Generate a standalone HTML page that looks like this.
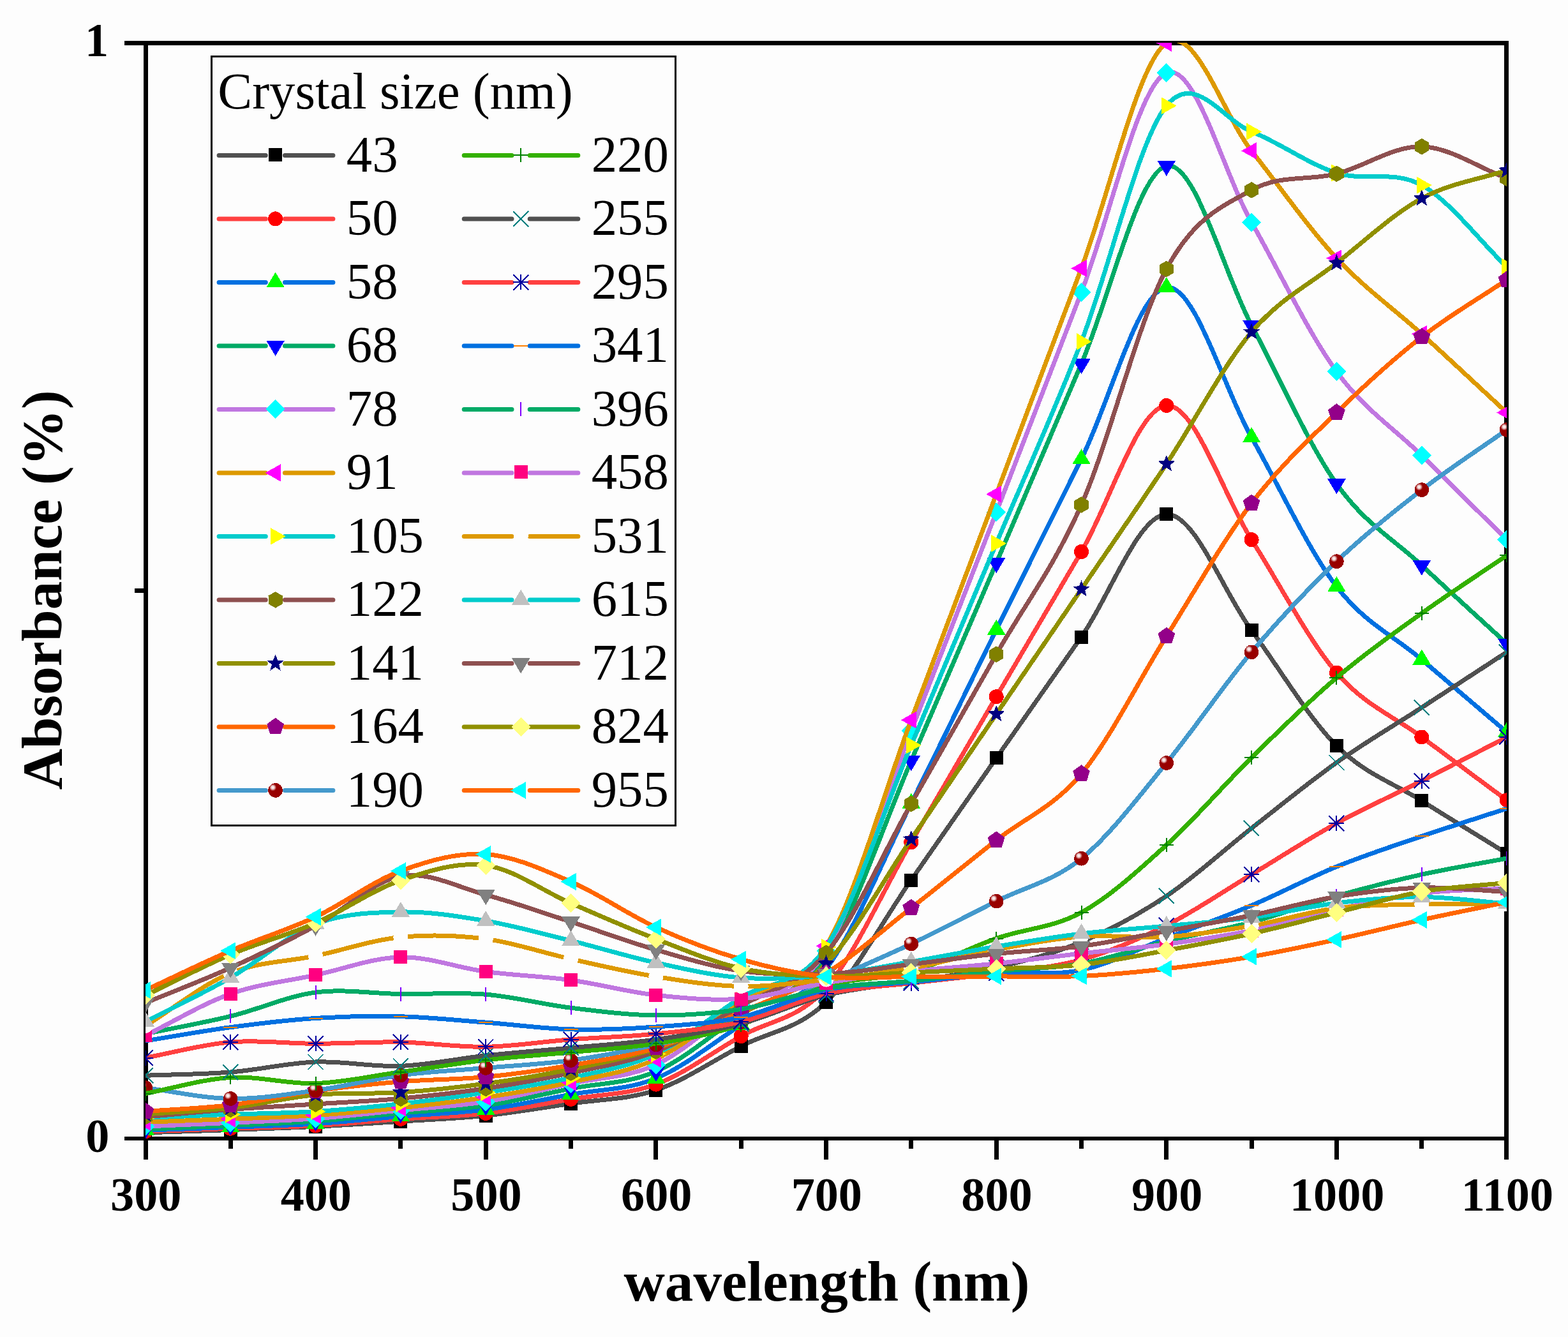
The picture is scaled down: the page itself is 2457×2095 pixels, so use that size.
<!DOCTYPE html>
<html lang="en"><head><meta charset="utf-8"><title>Absorbance vs wavelength</title>
<style>html,body{margin:0;padding:0;background:#fdfdfd}body{width:2457px;height:2095px;overflow:hidden}svg{display:block}text{font-family:"Liberation Serif",serif;fill:#000}.b{font-weight:bold}.tk{font-size:74.2px;font-weight:bold}.ax{font-size:89.1px;font-weight:bold}.lg{font-size:80.8px}.ln{fill:none;stroke-width:7;stroke-linejoin:round}</style></head><body>
<svg width="2457" height="2095" viewBox="0 0 2457 2095">
<defs><clipPath id="cp"><rect x="228" y="67" width="2133" height="1717"/></clipPath><radialGradient id="sph" cx="0.32" cy="0.3" r="0.6"><stop offset="0" stop-color="#fff"/><stop offset="0.18" stop-color="#f0d0d0"/><stop offset="0.42" stop-color="#980000"/><stop offset="1" stop-color="#980000"/></radialGradient></defs>
<rect width="2457" height="2095" fill="#fdfdfd"/>
<g stroke="#000" stroke-width="7" fill="none" shape-rendering="crispEdges">
<path d="M195 67.5H2364"/>
<path stroke-width="6" d="M195 1784H2364"/>
<path d="M228.5 64V1816.5M2360.5 64V1816.5"/>
<path d="M494.5 1784V1816.5M761.5 1784V1816.5M1027.5 1784V1816.5M1294.5 1784V1816.5M1561.5 1784V1816.5M1827.5 1784V1816.5M2094.5 1784V1816.5M361.5 1784V1799.5M627.5 1784V1799.5M894.5 1784V1799.5M1161.5 1784V1799.5M1427.5 1784V1799.5M1694.5 1784V1799.5M1961.5 1784V1799.5M2227.5 1784V1799.5M211 925.8H228.5"/>
</g>
<g clip-path="url(#cp)" shape-rendering="crispEdges">
<path class="ln" stroke="#505050" d="M227.9 1774.8C272.3 1773.4 316.8 1772.1 361.2 1770.5C405.7 1768.9 450.1 1767.5 494.5 1765.3C539 1763.1 583.4 1760.1 627.9 1757.2C672.3 1754.3 716.8 1752.8 761.2 1748.1C805.6 1743.4 850.1 1735.8 894.5 1729.2C939 1722.6 983.4 1723.2 1027.9 1708.2C1072.3 1693.2 1116.7 1662.3 1161.2 1639.3C1205.6 1616.3 1250.1 1613.6 1294.5 1570.2C1338.9 1526.8 1383.4 1442.7 1427.8 1379C1472.3 1315.3 1516.7 1251.3 1561.2 1187.8C1605.6 1124.3 1650 1061.7 1694.5 998C1738.9 934.4 1783.4 807.6 1827.8 805.9C1872.2 804.2 1916.7 927.3 1961.1 987.8C2005.6 1048.2 2050 1124.1 2094.4 1168.6C2138.9 1213.1 2183.3 1226.7 2227.8 1254.8C2272.2 1282.9 2316.7 1309.8 2361.1 1337.3"/>
<rect x="217.4" y="1764.3" width="21" height="21" fill="#000000"/><rect x="350.7" y="1760" width="21" height="21" fill="#000000"/><rect x="484" y="1754.8" width="21" height="21" fill="#000000"/><rect x="617.4" y="1746.7" width="21" height="21" fill="#000000"/><rect x="750.7" y="1737.6" width="21" height="21" fill="#000000"/><rect x="884" y="1718.7" width="21" height="21" fill="#000000"/><rect x="1017.4" y="1697.7" width="21" height="21" fill="#000000"/><rect x="1150.7" y="1628.8" width="21" height="21" fill="#000000"/><rect x="1284" y="1559.7" width="21" height="21" fill="#000000"/><rect x="1417.3" y="1368.5" width="21" height="21" fill="#000000"/><rect x="1550.7" y="1177.3" width="21" height="21" fill="#000000"/><rect x="1684" y="987.5" width="21" height="21" fill="#000000"/><rect x="1817.3" y="795.4" width="21" height="21" fill="#000000"/><rect x="1950.6" y="977.3" width="21" height="21" fill="#000000"/><rect x="2083.9" y="1158.1" width="21" height="21" fill="#000000"/><rect x="2217.3" y="1244.3" width="21" height="21" fill="#000000"/><rect x="2350.6" y="1326.8" width="21" height="21" fill="#000000"/>
<path class="ln" stroke="#FF4040" d="M227.9 1773C272.3 1771.4 316.8 1769.8 361.2 1768.3C405.7 1766.8 450.1 1766.3 494.5 1763.8C539 1761.3 583.4 1756.5 627.9 1753.3C672.3 1750.1 716.8 1749.7 761.2 1744.5C805.6 1739.3 850.1 1730 894.5 1722.4C939 1714.8 983.4 1715.6 1027.9 1699.1C1072.3 1682.6 1116.7 1648.8 1161.2 1623.6C1205.6 1598.4 1250.1 1598.7 1294.5 1548C1338.9 1497.3 1383.4 1395.8 1427.8 1319.7C1472.3 1243.7 1516.7 1167.6 1561.2 1091.7C1605.6 1015.8 1650 940.5 1694.5 864.5C1738.9 788.5 1783.4 638.6 1827.8 635.5C1872.2 632.4 1916.7 775.9 1961.1 845.7C2005.6 915.5 2050 1002.7 2094.4 1054.2C2138.9 1105.8 2183.3 1121.7 2227.8 1155C2272.2 1188.3 2316.7 1220.9 2361.1 1253.9"/>
<circle cx="227.9" cy="1773" r="11.5" fill="#FF0000"/><circle cx="361.2" cy="1768.3" r="11.5" fill="#FF0000"/><circle cx="494.5" cy="1763.8" r="11.5" fill="#FF0000"/><circle cx="627.9" cy="1753.3" r="11.5" fill="#FF0000"/><circle cx="761.2" cy="1744.5" r="11.5" fill="#FF0000"/><circle cx="894.5" cy="1722.4" r="11.5" fill="#FF0000"/><circle cx="1027.9" cy="1699.1" r="11.5" fill="#FF0000"/><circle cx="1161.2" cy="1623.6" r="11.5" fill="#FF0000"/><circle cx="1294.5" cy="1548" r="11.5" fill="#FF0000"/><circle cx="1427.8" cy="1319.7" r="11.5" fill="#FF0000"/><circle cx="1561.2" cy="1091.7" r="11.5" fill="#FF0000"/><circle cx="1694.5" cy="864.5" r="11.5" fill="#FF0000"/><circle cx="1827.8" cy="635.5" r="11.5" fill="#FF0000"/><circle cx="1961.1" cy="845.7" r="11.5" fill="#FF0000"/><circle cx="2094.4" cy="1054.2" r="11.5" fill="#FF0000"/><circle cx="2227.8" cy="1155" r="11.5" fill="#FF0000"/><circle cx="2361.1" cy="1253.9" r="11.5" fill="#FF0000"/>
<path class="ln" stroke="#0070E0" d="M227.9 1771.2C272.3 1769.6 316.8 1768 361.2 1766.3C405.7 1764.6 450.1 1763.7 494.5 1760.9C539 1758.1 583.4 1753 627.9 1749.3C672.3 1745.6 716.8 1744.4 761.2 1738.7C805.6 1733 850.1 1723.1 894.5 1714.9C939 1706.8 983.4 1708 1027.9 1689.8C1072.3 1671.6 1116.7 1634.5 1161.2 1605.9C1205.6 1577.3 1250.1 1575.8 1294.5 1518C1338.9 1460.2 1383.4 1347.3 1427.8 1258.8C1472.3 1170.3 1516.7 1076.7 1561.2 986.8C1605.6 896.9 1650 808.7 1694.5 719.3C1738.9 629.9 1783.4 455.8 1827.8 450.2C1872.2 444.6 1916.7 607.2 1961.1 685.4C2005.6 763.6 2050 861.2 2094.4 919.2C2138.9 977.2 2183.3 995.5 2227.8 1033.5C2272.2 1071.5 2316.7 1109.4 2361.1 1147.3"/>
<polygon points="227.9,1755.2 242.2,1779.2 213.6,1779.2" fill="#00FF00"/><polygon points="361.2,1750.3 375.5,1774.3 346.9,1774.3" fill="#00FF00"/><polygon points="494.5,1744.9 508.8,1768.9 480.2,1768.9" fill="#00FF00"/><polygon points="627.9,1733.3 642.2,1757.3 613.6,1757.3" fill="#00FF00"/><polygon points="761.2,1722.7 775.5,1746.7 746.9,1746.7" fill="#00FF00"/><polygon points="894.5,1698.9 908.8,1722.9 880.2,1722.9" fill="#00FF00"/><polygon points="1027.9,1673.8 1042.2,1697.8 1013.6,1697.8" fill="#00FF00"/><polygon points="1161.2,1589.9 1175.5,1613.9 1146.9,1613.9" fill="#00FF00"/><polygon points="1294.5,1502 1308.8,1526 1280.2,1526" fill="#00FF00"/><polygon points="1427.8,1242.8 1442.1,1266.8 1413.5,1266.8" fill="#00FF00"/><polygon points="1561.2,970.8 1575.5,994.8 1546.9,994.8" fill="#00FF00"/><polygon points="1694.5,703.3 1708.8,727.3 1680.2,727.3" fill="#00FF00"/><polygon points="1827.8,434.2 1842.1,458.2 1813.5,458.2" fill="#00FF00"/><polygon points="1961.1,669.4 1975.4,693.4 1946.8,693.4" fill="#00FF00"/><polygon points="2094.4,903.2 2108.8,927.2 2080.1,927.2" fill="#00FF00"/><polygon points="2227.8,1017.5 2242.1,1041.5 2213.5,1041.5" fill="#00FF00"/><polygon points="2361.1,1131.3 2375.4,1155.3 2346.8,1155.3" fill="#00FF00"/>
<path class="ln" stroke="#00AA66" d="M227.9 1769.5C272.3 1767.5 316.8 1765.7 361.2 1763.6C405.7 1761.5 450.1 1760.1 494.5 1756.9C539 1753.7 583.4 1748.3 627.9 1744.2C672.3 1740.1 716.8 1738.8 761.2 1732.4C805.6 1726 850.1 1714.7 894.5 1705.8C939 1696.9 983.4 1698.3 1027.9 1679C1072.3 1659.7 1116.7 1620.2 1161.2 1590C1205.6 1559.8 1250.1 1564.3 1294.5 1498C1338.9 1431.7 1383.4 1294.8 1427.8 1192.1C1472.3 1089.4 1516.7 985.8 1561.2 882.1C1605.6 778.4 1650 673.7 1694.5 570C1738.9 466.3 1783.4 270.1 1827.8 260C1872.2 249.9 1916.7 426.4 1961.1 509.5C2005.6 592.5 2050 695.6 2094.4 758.3C2138.9 821 2183.3 844.2 2227.8 885.9C2272.2 927.6 2316.7 967.6 2361.1 1008.5"/>
<polygon points="227.9,1785.5 242.2,1761.5 213.6,1761.5" fill="#0000FF"/><polygon points="361.2,1779.6 375.5,1755.6 346.9,1755.6" fill="#0000FF"/><polygon points="494.5,1772.9 508.8,1748.9 480.2,1748.9" fill="#0000FF"/><polygon points="627.9,1760.2 642.2,1736.2 613.6,1736.2" fill="#0000FF"/><polygon points="761.2,1748.4 775.5,1724.4 746.9,1724.4" fill="#0000FF"/><polygon points="894.5,1721.8 908.8,1697.8 880.2,1697.8" fill="#0000FF"/><polygon points="1027.9,1695 1042.2,1671 1013.6,1671" fill="#0000FF"/><polygon points="1161.2,1606 1175.5,1582 1146.9,1582" fill="#0000FF"/><polygon points="1294.5,1514 1308.8,1490 1280.2,1490" fill="#0000FF"/><polygon points="1427.8,1208.1 1442.1,1184.1 1413.5,1184.1" fill="#0000FF"/><polygon points="1561.2,898.1 1575.5,874.1 1546.9,874.1" fill="#0000FF"/><polygon points="1694.5,586 1708.8,562 1680.2,562" fill="#0000FF"/><polygon points="1827.8,276 1842.1,252 1813.5,252" fill="#0000FF"/><polygon points="1961.1,525.5 1975.4,501.5 1946.8,501.5" fill="#0000FF"/><polygon points="2094.4,774.3 2108.8,750.3 2080.1,750.3" fill="#0000FF"/><polygon points="2227.8,901.9 2242.1,877.9 2213.5,877.9" fill="#0000FF"/><polygon points="2361.1,1024.5 2375.4,1000.5 2346.8,1000.5" fill="#0000FF"/>
<path class="ln" stroke="#C077E0" d="M227.9 1765C272.3 1763.1 316.8 1761.3 361.2 1759.3C405.7 1757.2 450.1 1756 494.5 1752.7C539 1749.5 583.4 1744.2 627.9 1739.8C672.3 1735.4 716.8 1733.3 761.2 1726.3C805.6 1719.3 850.1 1707.6 894.5 1697.9C939 1688.2 983.4 1688.9 1027.9 1668.3C1072.3 1647.7 1116.7 1604.2 1161.2 1574.5C1205.6 1544.8 1250.1 1561.5 1294.5 1490C1338.9 1418.5 1383.4 1259.8 1427.8 1145.2C1472.3 1030.7 1516.7 917.2 1561.2 802.7C1605.6 688.2 1650 572.7 1694.5 457.9C1738.9 343.1 1783.4 132.4 1827.8 114.1C1872.2 95.8 1916.7 270.3 1961.1 348.3C2005.6 426.3 2050 521.4 2094.4 582.3C2138.9 643.2 2183.3 669.9 2227.8 713.8C2272.2 757.7 2316.7 801.7 2361.1 845.7"/>
<polygon points="227.9,1750 242.9,1765 227.9,1780 212.9,1765" fill="#00FFFF"/><polygon points="361.2,1744.3 376.2,1759.3 361.2,1774.3 346.2,1759.3" fill="#00FFFF"/><polygon points="494.5,1737.7 509.5,1752.7 494.5,1767.7 479.5,1752.7" fill="#00FFFF"/><polygon points="627.9,1724.8 642.9,1739.8 627.9,1754.8 612.9,1739.8" fill="#00FFFF"/><polygon points="761.2,1711.3 776.2,1726.3 761.2,1741.3 746.2,1726.3" fill="#00FFFF"/><polygon points="894.5,1682.9 909.5,1697.9 894.5,1712.9 879.5,1697.9" fill="#00FFFF"/><polygon points="1027.9,1653.3 1042.9,1668.3 1027.9,1683.3 1012.9,1668.3" fill="#00FFFF"/><polygon points="1161.2,1559.5 1176.2,1574.5 1161.2,1589.5 1146.2,1574.5" fill="#00FFFF"/><polygon points="1294.5,1475 1309.5,1490 1294.5,1505 1279.5,1490" fill="#00FFFF"/><polygon points="1427.8,1130.2 1442.8,1145.2 1427.8,1160.2 1412.8,1145.2" fill="#00FFFF"/><polygon points="1561.2,787.7 1576.2,802.7 1561.2,817.7 1546.2,802.7" fill="#00FFFF"/><polygon points="1694.5,442.9 1709.5,457.9 1694.5,472.9 1679.5,457.9" fill="#00FFFF"/><polygon points="1827.8,99.1 1842.8,114.1 1827.8,129.1 1812.8,114.1" fill="#00FFFF"/><polygon points="1961.1,333.3 1976.1,348.3 1961.1,363.3 1946.1,348.3" fill="#00FFFF"/><polygon points="2094.4,567.3 2109.4,582.3 2094.4,597.3 2079.4,582.3" fill="#00FFFF"/><polygon points="2227.8,698.8 2242.8,713.8 2227.8,728.8 2212.8,713.8" fill="#00FFFF"/><polygon points="2361.1,830.7 2376.1,845.7 2361.1,860.7 2346.1,845.7" fill="#00FFFF"/>
<path class="ln" stroke="#DD9900" d="M227.9 1758.3C272.3 1756.6 316.8 1755.1 361.2 1753.3C405.7 1751.5 450.1 1750.4 494.5 1747.5C539 1744.6 583.4 1740.6 627.9 1735.9C672.3 1731.2 716.8 1726.2 761.2 1719.5C805.6 1712.8 850.1 1705.7 894.5 1695.7C939 1685.7 983.4 1680.5 1027.9 1659.5C1072.3 1638.5 1116.7 1599.5 1161.2 1570C1205.6 1540.5 1250.1 1555.9 1294.5 1482.3C1338.9 1408.7 1383.4 1246.2 1427.8 1128.2C1472.3 1010.2 1516.7 892.2 1561.2 774.3C1605.6 656.3 1650 538.3 1694.5 420.5C1738.9 302.7 1783.4 98 1827.8 67.3C1872.2 36.6 1916.7 180.2 1961.1 236.4C2005.6 292.6 2050 356.7 2094.4 404.5C2138.9 452.3 2183.3 483.1 2227.8 523.4C2272.2 563.7 2316.7 605.5 2361.1 646.5"/>
<polygon points="211.9,1758.3 235.9,1744.8 235.9,1771.8" fill="#FF00FF"/><polygon points="345.2,1753.3 369.2,1739.8 369.2,1766.8" fill="#FF00FF"/><polygon points="478.5,1747.5 502.5,1734 502.5,1761" fill="#FF00FF"/><polygon points="611.9,1735.9 635.9,1722.4 635.9,1749.4" fill="#FF00FF"/><polygon points="745.2,1719.5 769.2,1706 769.2,1733" fill="#FF00FF"/><polygon points="878.5,1695.7 902.5,1682.2 902.5,1709.2" fill="#FF00FF"/><polygon points="1011.9,1659.5 1035.9,1646 1035.9,1673" fill="#FF00FF"/><polygon points="1145.2,1570 1169.2,1556.5 1169.2,1583.5" fill="#FF00FF"/><polygon points="1278.5,1482.3 1302.5,1468.8 1302.5,1495.8" fill="#FF00FF"/><polygon points="1411.8,1128.2 1435.8,1114.7 1435.8,1141.7" fill="#FF00FF"/><polygon points="1545.2,774.3 1569.2,760.8 1569.2,787.8" fill="#FF00FF"/><polygon points="1678.5,420.5 1702.5,407 1702.5,434" fill="#FF00FF"/><polygon points="1811.8,67.3 1835.8,53.8 1835.8,80.8" fill="#FF00FF"/><polygon points="1945.1,236.4 1969.1,222.9 1969.1,249.9" fill="#FF00FF"/><polygon points="2078.4,404.5 2102.4,391 2102.4,418" fill="#FF00FF"/><polygon points="2211.8,523.4 2235.8,509.9 2235.8,536.9" fill="#FF00FF"/><polygon points="2345.1,646.5 2369.1,633 2369.1,660" fill="#FF00FF"/>
<path class="ln" stroke="#00CCCC" d="M227.9 1751.5C272.3 1749.7 316.8 1747.8 361.2 1746.2C405.7 1744.6 450.1 1744.5 494.5 1741.7C539 1738.9 583.4 1734.5 627.9 1729.5C672.3 1724.5 716.8 1718.7 761.2 1711.9C805.6 1705.1 850.1 1698.9 894.5 1688.8C939 1678.7 983.4 1672.5 1027.9 1651.5C1072.3 1630.5 1116.7 1590.9 1161.2 1563C1205.6 1535.1 1250.1 1549.9 1294.5 1484C1338.9 1418.1 1383.4 1273.1 1427.8 1167.7C1472.3 1062.3 1516.7 956.9 1561.2 851.5C1605.6 746.1 1650 649.6 1694.5 535.3C1738.9 421 1783.4 220.5 1827.8 165.7C1872.2 110.8 1916.7 188.6 1961.1 206.2C2005.6 223.8 2050 257 2094.4 271C2138.9 285 2183.3 265.6 2227.8 290.2C2272.2 314.8 2316.7 375.7 2361.1 418.4"/>
<polygon points="243.9,1751.5 219.9,1738 219.9,1765" fill="#FFFF00"/><polygon points="377.2,1746.2 353.2,1732.7 353.2,1759.7" fill="#FFFF00"/><polygon points="510.5,1741.7 486.5,1728.2 486.5,1755.2" fill="#FFFF00"/><polygon points="643.9,1729.5 619.9,1716 619.9,1743" fill="#FFFF00"/><polygon points="777.2,1711.9 753.2,1698.4 753.2,1725.4" fill="#FFFF00"/><polygon points="910.5,1688.8 886.5,1675.3 886.5,1702.3" fill="#FFFF00"/><polygon points="1043.9,1651.5 1019.9,1638 1019.9,1665" fill="#FFFF00"/><polygon points="1177.2,1563 1153.2,1549.5 1153.2,1576.5" fill="#FFFF00"/><polygon points="1310.5,1484 1286.5,1470.5 1286.5,1497.5" fill="#FFFF00"/><polygon points="1443.8,1167.7 1419.8,1154.2 1419.8,1181.2" fill="#FFFF00"/><polygon points="1577.2,851.5 1553.2,838 1553.2,865" fill="#FFFF00"/><polygon points="1710.5,535.3 1686.5,521.8 1686.5,548.8" fill="#FFFF00"/><polygon points="1843.8,165.7 1819.8,152.2 1819.8,179.2" fill="#FFFF00"/><polygon points="1977.1,206.2 1953.1,192.7 1953.1,219.7" fill="#FFFF00"/><polygon points="2110.4,271 2086.4,257.5 2086.4,284.5" fill="#FFFF00"/><polygon points="2243.8,290.2 2219.8,276.7 2219.8,303.7" fill="#FFFF00"/><polygon points="2377.1,418.4 2353.1,404.9 2353.1,431.9" fill="#FFFF00"/>
<path class="ln" stroke="#8E5050" d="M227.9 1750C272.3 1746.2 316.8 1741.8 361.2 1738.5C405.7 1735.2 450.1 1732.9 494.5 1730C539 1727.1 583.4 1725.4 627.9 1721.3C672.3 1717.2 716.8 1712.2 761.2 1705.5C805.6 1698.8 850.1 1690.9 894.5 1681.2C939 1671.5 983.4 1665 1027.9 1647.5C1072.3 1630 1116.7 1601.7 1161.2 1576C1205.6 1550.3 1250.1 1546.2 1294.5 1493.5C1338.9 1440.8 1383.4 1337.5 1427.8 1259.5C1472.3 1181.5 1516.7 1103.4 1561.2 1025.3C1605.6 947.2 1650 891.6 1694.5 791C1738.9 690.4 1783.4 503.7 1827.8 421.5C1872.2 339.3 1916.7 322.8 1961.1 297.9C2005.6 273 2050 283.7 2094.4 272.3C2138.9 260.9 2183.3 228.5 2227.8 229.7C2272.2 230.9 2316.7 262.8 2361.1 279.4"/>
<polygon points="227.9,1737.2 239,1743.6 239,1756.4 227.9,1762.8 216.8,1756.4 216.8,1743.6" fill="#808000"/><polygon points="361.2,1725.7 372.3,1732.1 372.3,1744.9 361.2,1751.3 350.1,1744.9 350.1,1732.1" fill="#808000"/><polygon points="494.5,1717.2 505.6,1723.6 505.6,1736.4 494.5,1742.8 483.5,1736.4 483.5,1723.6" fill="#808000"/><polygon points="627.9,1708.5 639,1714.9 639,1727.7 627.9,1734.1 616.8,1727.7 616.8,1714.9" fill="#808000"/><polygon points="761.2,1692.7 772.3,1699.1 772.3,1711.9 761.2,1718.3 750.1,1711.9 750.1,1699.1" fill="#808000"/><polygon points="894.5,1668.4 905.6,1674.8 905.6,1687.6 894.5,1694 883.4,1687.6 883.4,1674.8" fill="#808000"/><polygon points="1027.9,1634.7 1038.9,1641.1 1038.9,1653.9 1027.9,1660.3 1016.8,1653.9 1016.8,1641.1" fill="#808000"/><polygon points="1161.2,1563.2 1172.3,1569.6 1172.3,1582.4 1161.2,1588.8 1150.1,1582.4 1150.1,1569.6" fill="#808000"/><polygon points="1294.5,1480.7 1305.6,1487.1 1305.6,1499.9 1294.5,1506.3 1283.4,1499.9 1283.4,1487.1" fill="#808000"/><polygon points="1427.8,1246.7 1438.9,1253.1 1438.9,1265.9 1427.8,1272.3 1416.7,1265.9 1416.7,1253.1" fill="#808000"/><polygon points="1561.2,1012.5 1572.2,1018.9 1572.2,1031.7 1561.2,1038.1 1550.1,1031.7 1550.1,1018.9" fill="#808000"/><polygon points="1694.5,778.2 1705.6,784.6 1705.6,797.4 1694.5,803.8 1683.4,797.4 1683.4,784.6" fill="#808000"/><polygon points="1827.8,408.7 1838.9,415.1 1838.9,427.9 1827.8,434.3 1816.7,427.9 1816.7,415.1" fill="#808000"/><polygon points="1961.1,285.1 1972.2,291.5 1972.2,304.3 1961.1,310.7 1950,304.3 1950,291.5" fill="#808000"/><polygon points="2094.4,259.5 2105.5,265.9 2105.5,278.7 2094.4,285.1 2083.4,278.7 2083.4,265.9" fill="#808000"/><polygon points="2227.8,216.9 2238.9,223.3 2238.9,236.1 2227.8,242.5 2216.7,236.1 2216.7,223.3" fill="#808000"/><polygon points="2361.1,266.6 2372.2,273 2372.2,285.8 2361.1,292.2 2350,285.8 2350,273" fill="#808000"/>
<path class="ln" stroke="#909000" d="M227.9 1746C272.3 1742.7 316.8 1741.1 361.2 1736C405.7 1730.9 450.1 1719.6 494.5 1715.6C539 1711.5 583.4 1714.6 627.9 1711.7C672.3 1708.8 716.8 1704 761.2 1698C805.6 1692 850.1 1684.7 894.5 1675.5C939 1666.3 983.4 1657.6 1027.9 1643C1072.3 1628.4 1116.7 1610.2 1161.2 1588C1205.6 1565.8 1250.1 1555.5 1294.5 1510C1338.9 1464.5 1383.4 1380.2 1427.8 1315C1472.3 1249.8 1516.7 1184.2 1561.2 1118.9C1605.6 1053.6 1650 988.5 1694.5 923.2C1738.9 857.9 1783.4 794 1827.8 726.9C1872.2 659.8 1916.7 572.8 1961.1 520.3C2005.6 467.8 2050 447.1 2094.4 412.2C2138.9 377.3 2183.3 335.1 2227.8 310.9C2272.2 286.7 2316.7 281.6 2361.1 267"/>
<polygon points="227.9,1732 231.4,1741.1 241.2,1741.7 233.6,1747.9 236.1,1757.3 227.9,1752 219.7,1757.3 222.2,1747.9 214.6,1741.7 224.4,1741.1" fill="#000080"/><polygon points="361.2,1722 364.8,1731.1 374.5,1731.7 366.9,1737.9 369.5,1747.3 361.2,1742 353,1747.3 355.5,1737.9 347.9,1731.7 357.7,1731.1" fill="#000080"/><polygon points="494.5,1701.6 498.1,1710.7 507.9,1711.3 500.3,1717.5 502.8,1726.9 494.5,1721.6 486.3,1726.9 488.8,1717.5 481.2,1711.3 491,1710.7" fill="#000080"/><polygon points="627.9,1697.7 631.4,1706.8 641.2,1707.4 633.6,1713.6 636.1,1723 627.9,1717.7 619.6,1723 622.2,1713.6 614.6,1707.4 624.3,1706.8" fill="#000080"/><polygon points="761.2,1684 764.7,1693.1 774.5,1693.7 766.9,1699.9 769.4,1709.3 761.2,1704 753,1709.3 755.5,1699.9 747.9,1693.7 757.7,1693.1" fill="#000080"/><polygon points="894.5,1661.5 898.1,1670.6 907.8,1671.2 900.2,1677.4 902.8,1686.8 894.5,1681.5 886.3,1686.8 888.8,1677.4 881.2,1671.2 891,1670.6" fill="#000080"/><polygon points="1027.9,1629 1031.4,1638.1 1041.2,1638.7 1033.6,1644.9 1036.1,1654.3 1027.9,1649 1019.6,1654.3 1022.1,1644.9 1014.5,1638.7 1024.3,1638.1" fill="#000080"/><polygon points="1161.2,1574 1164.7,1583.1 1174.5,1583.7 1166.9,1589.9 1169.4,1599.3 1161.2,1594 1152.9,1599.3 1155.5,1589.9 1147.9,1583.7 1157.6,1583.1" fill="#000080"/><polygon points="1294.5,1496 1298,1505.1 1307.8,1505.7 1300.2,1511.9 1302.7,1521.3 1294.5,1516 1286.3,1521.3 1288.8,1511.9 1281.2,1505.7 1291,1505.1" fill="#000080"/><polygon points="1427.8,1301 1431.4,1310.1 1441.1,1310.7 1433.5,1316.9 1436.1,1326.3 1427.8,1321 1419.6,1326.3 1422.1,1316.9 1414.5,1310.7 1424.3,1310.1" fill="#000080"/><polygon points="1561.2,1104.9 1564.7,1114 1574.5,1114.6 1566.9,1120.8 1569.4,1130.2 1561.2,1124.9 1552.9,1130.2 1555.4,1120.8 1547.8,1114.6 1557.6,1114" fill="#000080"/><polygon points="1694.5,909.2 1698,918.3 1707.8,918.9 1700.2,925.1 1702.7,934.5 1694.5,929.2 1686.2,934.5 1688.8,925.1 1681.2,918.9 1690.9,918.3" fill="#000080"/><polygon points="1827.8,712.9 1831.3,722 1841.1,722.6 1833.5,728.8 1836,738.2 1827.8,732.9 1819.6,738.2 1822.1,728.8 1814.5,722.6 1824.3,722" fill="#000080"/><polygon points="1961.1,506.3 1964.7,515.4 1974.4,516 1966.8,522.2 1969.4,531.6 1961.1,526.3 1952.9,531.6 1955.4,522.2 1947.8,516 1957.6,515.4" fill="#000080"/><polygon points="2094.4,398.2 2098,407.3 2107.8,407.9 2100.2,414.1 2102.7,423.5 2094.4,418.2 2086.2,423.5 2088.7,414.1 2081.1,407.9 2090.9,407.3" fill="#000080"/><polygon points="2227.8,296.9 2231.3,306 2241.1,306.6 2233.5,312.8 2236,322.2 2227.8,316.9 2219.5,322.2 2222.1,312.8 2214.5,306.6 2224.2,306" fill="#000080"/><polygon points="2361.1,253 2364.6,262.1 2374.4,262.7 2366.8,268.9 2369.3,278.3 2361.1,273 2352.9,278.3 2355.4,268.9 2347.8,262.7 2357.6,262.1" fill="#000080"/>
<path class="ln" stroke="#FF6600" d="M227.9 1741.5C272.3 1738.2 316.8 1736.8 361.2 1731.5C405.7 1726.2 450.1 1715.5 494.5 1709.4C539 1703.3 583.4 1698.6 627.9 1694.9C672.3 1691.2 716.8 1691.8 761.2 1687.5C805.6 1683.2 850.1 1676.9 894.5 1669.3C939 1661.7 983.4 1655.7 1027.9 1641.8C1072.3 1627.9 1116.7 1605.5 1161.2 1586C1205.6 1566.5 1250.1 1552.2 1294.5 1525C1338.9 1497.8 1383.4 1457.4 1427.8 1422.7C1472.3 1388 1516.7 1351.6 1561.2 1316.6C1605.6 1281.6 1650 1265.8 1694.5 1212.5C1738.9 1159.2 1783.4 1067.7 1827.8 997C1872.2 926.4 1916.7 847 1961.1 788.6C2005.6 730.2 2050 689.9 2094.4 646.5C2138.9 603.1 2183.3 562.7 2227.8 528C2272.2 493.3 2316.7 468.3 2361.1 438.4"/>
<polygon points="227.9,1727.4 241.3,1737.1 236.2,1752.9 219.6,1752.9 214.5,1737.1" fill="#930089"/><polygon points="361.2,1717.4 374.6,1727.1 369.5,1742.9 352.9,1742.9 347.8,1727.1" fill="#930089"/><polygon points="494.5,1695.3 508,1705 502.8,1720.8 486.3,1720.8 481.1,1705" fill="#930089"/><polygon points="627.9,1680.8 641.3,1690.5 636.2,1706.3 619.6,1706.3 614.5,1690.5" fill="#930089"/><polygon points="761.2,1673.4 774.6,1683.1 769.5,1698.9 752.9,1698.9 747.8,1683.1" fill="#930089"/><polygon points="894.5,1655.2 907.9,1664.9 902.8,1680.7 886.2,1680.7 881.1,1664.9" fill="#930089"/><polygon points="1027.9,1627.7 1041.3,1637.4 1036.1,1653.2 1019.6,1653.2 1014.4,1637.4" fill="#930089"/><polygon points="1161.2,1571.9 1174.6,1581.6 1169.5,1597.4 1152.9,1597.4 1147.8,1581.6" fill="#930089"/><polygon points="1294.5,1510.9 1307.9,1520.6 1302.8,1536.4 1286.2,1536.4 1281.1,1520.6" fill="#930089"/><polygon points="1427.8,1408.6 1441.2,1418.3 1436.1,1434.1 1419.5,1434.1 1414.4,1418.3" fill="#930089"/><polygon points="1561.2,1302.5 1574.6,1312.2 1569.4,1328 1552.9,1328 1547.7,1312.2" fill="#930089"/><polygon points="1694.5,1198.4 1707.9,1208.1 1702.8,1223.9 1686.2,1223.9 1681.1,1208.1" fill="#930089"/><polygon points="1827.8,982.9 1841.2,992.6 1836.1,1008.4 1819.5,1008.4 1814.4,992.6" fill="#930089"/><polygon points="1961.1,774.5 1974.5,784.2 1969.4,800 1952.8,800 1947.7,784.2" fill="#930089"/><polygon points="2094.4,632.4 2107.9,642.1 2102.7,657.9 2086.2,657.9 2081,642.1" fill="#930089"/><polygon points="2227.8,513.9 2241.2,523.6 2236.1,539.4 2219.5,539.4 2214.4,523.6" fill="#930089"/><polygon points="2361.1,424.3 2374.5,434 2369.4,449.8 2352.8,449.8 2347.7,434" fill="#930089"/>
<path class="ln" stroke="#4499CC" d="M227.9 1704.6C272.3 1710.2 316.8 1720.8 361.2 1721.5C405.7 1722.2 450.1 1714.8 494.5 1708.7C539 1702.6 583.4 1690.8 627.9 1684.9C672.3 1679 716.8 1677.3 761.2 1673.4C805.6 1669.5 850.1 1667.6 894.5 1661.5C939 1655.4 983.4 1647 1027.9 1637C1072.3 1627 1116.7 1617.9 1161.2 1601.6C1205.6 1585.3 1250.1 1559.4 1294.5 1539C1338.9 1518.6 1383.4 1500.1 1427.8 1479C1472.3 1457.9 1516.7 1434.5 1561.2 1412.2C1605.6 1389.9 1650 1381.4 1694.5 1345.3C1738.9 1309.2 1783.4 1249.4 1827.8 1195.5C1872.2 1141.6 1916.7 1074.4 1961.1 1021.8C2005.6 969.2 2050 922.1 2094.4 879.7C2138.9 837.3 2183.3 802 2227.8 767.6C2272.2 733.2 2316.7 704.8 2361.1 673.4"/>
<circle cx="227.9" cy="1704.6" r="11.3" fill="url(#sph)"/><circle cx="361.2" cy="1721.5" r="11.3" fill="url(#sph)"/><circle cx="494.5" cy="1708.7" r="11.3" fill="url(#sph)"/><circle cx="627.9" cy="1684.9" r="11.3" fill="url(#sph)"/><circle cx="761.2" cy="1673.4" r="11.3" fill="url(#sph)"/><circle cx="894.5" cy="1661.5" r="11.3" fill="url(#sph)"/><circle cx="1027.9" cy="1637" r="11.3" fill="url(#sph)"/><circle cx="1161.2" cy="1601.6" r="11.3" fill="url(#sph)"/><circle cx="1294.5" cy="1539" r="11.3" fill="url(#sph)"/><circle cx="1427.8" cy="1479" r="11.3" fill="url(#sph)"/><circle cx="1561.2" cy="1412.2" r="11.3" fill="url(#sph)"/><circle cx="1694.5" cy="1345.3" r="11.3" fill="url(#sph)"/><circle cx="1827.8" cy="1195.5" r="11.3" fill="url(#sph)"/><circle cx="1961.1" cy="1021.8" r="11.3" fill="url(#sph)"/><circle cx="2094.4" cy="879.7" r="11.3" fill="url(#sph)"/><circle cx="2227.8" cy="767.6" r="11.3" fill="url(#sph)"/><circle cx="2361.1" cy="673.4" r="11.3" fill="url(#sph)"/>
<path class="ln" stroke="#33B000" d="M227.9 1713.5C272.3 1705.1 316.8 1691.1 361.2 1688.4C405.7 1685.8 450.1 1699 494.5 1697.6C539 1696.1 583.4 1685.8 627.9 1679.7C672.3 1673.6 716.8 1666.2 761.2 1661C805.6 1655.8 850.1 1653.1 894.5 1648.8C939 1644.5 983.4 1642.3 1027.9 1635.1C1072.3 1627.9 1116.7 1620.8 1161.2 1605.8C1205.6 1590.8 1250.1 1558.8 1294.5 1545C1338.9 1531.2 1383.4 1535.4 1427.8 1523C1472.3 1510.6 1516.7 1486 1561.2 1470.5C1605.6 1455 1650 1454.1 1694.5 1429.7C1738.9 1405.3 1783.4 1364.4 1827.8 1324C1872.2 1283.6 1916.7 1230.9 1961.1 1187.2C2005.6 1143.5 2050 1099.6 2094.4 1061.9C2138.9 1024.2 2183.3 992.8 2227.8 960.9C2272.2 929 2316.7 900.6 2361.1 870.4"/>
<path d="M216.9 1713.5h22M227.9 1702.5v22" stroke="#008000" stroke-width="2" fill="none"/><path d="M350.2 1688.4h22M361.2 1677.4v22" stroke="#008000" stroke-width="2" fill="none"/><path d="M483.5 1697.6h22M494.5 1686.6v22" stroke="#008000" stroke-width="2" fill="none"/><path d="M616.9 1679.7h22M627.9 1668.7v22" stroke="#008000" stroke-width="2" fill="none"/><path d="M750.2 1661h22M761.2 1650v22" stroke="#008000" stroke-width="2" fill="none"/><path d="M883.5 1648.8h22M894.5 1637.8v22" stroke="#008000" stroke-width="2" fill="none"/><path d="M1016.9 1635.1h22M1027.9 1624.1v22" stroke="#008000" stroke-width="2" fill="none"/><path d="M1150.2 1605.8h22M1161.2 1594.8v22" stroke="#008000" stroke-width="2" fill="none"/><path d="M1283.5 1545h22M1294.5 1534v22" stroke="#008000" stroke-width="2" fill="none"/><path d="M1416.8 1523h22M1427.8 1512v22" stroke="#008000" stroke-width="2" fill="none"/><path d="M1550.2 1470.5h22M1561.2 1459.5v22" stroke="#008000" stroke-width="2" fill="none"/><path d="M1683.5 1429.7h22M1694.5 1418.7v22" stroke="#008000" stroke-width="2" fill="none"/><path d="M1816.8 1324h22M1827.8 1313v22" stroke="#008000" stroke-width="2" fill="none"/><path d="M1950.1 1187.2h22M1961.1 1176.2v22" stroke="#008000" stroke-width="2" fill="none"/><path d="M2083.4 1061.9h22M2094.4 1050.9v22" stroke="#008000" stroke-width="2" fill="none"/><path d="M2216.8 960.9h22M2227.8 949.9v22" stroke="#008000" stroke-width="2" fill="none"/><path d="M2350.1 870.4h22M2361.1 859.4v22" stroke="#008000" stroke-width="2" fill="none"/>
<path class="ln" stroke="#505050" d="M227.9 1685.3C272.3 1683.5 316.8 1683.5 361.2 1680C405.7 1676.5 450.1 1665.6 494.5 1664C539 1662.4 583.4 1672.1 627.9 1670.4C672.3 1668.7 716.8 1658.8 761.2 1654C805.6 1649.2 850.1 1646.1 894.5 1641.9C939 1637.7 983.4 1635.1 1027.9 1628.8C1072.3 1622.5 1116.7 1615.7 1161.2 1604.1C1205.6 1592.5 1250.1 1570.4 1294.5 1559.4C1338.9 1548.4 1383.4 1545.2 1427.8 1538C1472.3 1530.8 1516.7 1526.3 1561.2 1516C1605.6 1505.7 1650 1494.7 1694.5 1476C1738.9 1457.3 1783.4 1433.7 1827.8 1404C1872.2 1374.3 1916.7 1332.6 1961.1 1297.8C2005.6 1263 2050 1226.4 2094.4 1194.9C2138.9 1163.4 2183.3 1137.6 2227.8 1108.7C2272.2 1079.8 2316.7 1050.8 2361.1 1021.8"/>
<path d="M215.9 1673.3l24 24M215.9 1697.3l24 -24" stroke="#008080" stroke-width="2" fill="none"/><path d="M349.2 1668l24 24M349.2 1692l24 -24" stroke="#008080" stroke-width="2" fill="none"/><path d="M482.5 1652l24 24M482.5 1676l24 -24" stroke="#008080" stroke-width="2" fill="none"/><path d="M615.9 1658.4l24 24M615.9 1682.4l24 -24" stroke="#008080" stroke-width="2" fill="none"/><path d="M749.2 1642l24 24M749.2 1666l24 -24" stroke="#008080" stroke-width="2" fill="none"/><path d="M882.5 1629.9l24 24M882.5 1653.9l24 -24" stroke="#008080" stroke-width="2" fill="none"/><path d="M1015.9 1616.8l24 24M1015.9 1640.8l24 -24" stroke="#008080" stroke-width="2" fill="none"/><path d="M1149.2 1592.1l24 24M1149.2 1616.1l24 -24" stroke="#008080" stroke-width="2" fill="none"/><path d="M1282.5 1547.4l24 24M1282.5 1571.4l24 -24" stroke="#008080" stroke-width="2" fill="none"/><path d="M1415.8 1526l24 24M1415.8 1550l24 -24" stroke="#008080" stroke-width="2" fill="none"/><path d="M1549.2 1504l24 24M1549.2 1528l24 -24" stroke="#008080" stroke-width="2" fill="none"/><path d="M1682.5 1464l24 24M1682.5 1488l24 -24" stroke="#008080" stroke-width="2" fill="none"/><path d="M1815.8 1392l24 24M1815.8 1416l24 -24" stroke="#008080" stroke-width="2" fill="none"/><path d="M1949.1 1285.8l24 24M1949.1 1309.8l24 -24" stroke="#008080" stroke-width="2" fill="none"/><path d="M2082.4 1182.9l24 24M2082.4 1206.9l24 -24" stroke="#008080" stroke-width="2" fill="none"/><path d="M2215.8 1096.7l24 24M2215.8 1120.7l24 -24" stroke="#008080" stroke-width="2" fill="none"/><path d="M2349.1 1009.8l24 24M2349.1 1033.8l24 -24" stroke="#008080" stroke-width="2" fill="none"/>
<path class="ln" stroke="#FF4040" d="M227.9 1657.5C272.3 1649.3 316.8 1636.6 361.2 1632.9C405.7 1629.2 450.1 1635.3 494.5 1635.3C539 1635.3 583.4 1632.2 627.9 1633C672.3 1633.8 716.8 1641 761.2 1640.3C805.6 1639.6 850.1 1632.2 894.5 1628.8C939 1625.4 983.4 1624.6 1027.9 1620C1072.3 1615.4 1116.7 1611.6 1161.2 1601.1C1205.6 1590.6 1250.1 1567.1 1294.5 1557C1338.9 1546.9 1383.4 1545.8 1427.8 1540.5C1472.3 1535.2 1516.7 1531.1 1561.2 1525C1605.6 1518.9 1650 1516.3 1694.5 1503.8C1738.9 1491.3 1783.4 1472.2 1827.8 1450C1872.2 1427.8 1916.7 1397 1961.1 1370.3C2005.6 1343.6 2050 1314.5 2094.4 1290C2138.9 1265.5 2183.3 1246.1 2227.8 1223.6C2272.2 1201.1 2316.7 1177.9 2361.1 1155"/>
<path d="M215.9 1645.5l24 24M215.9 1669.5l24 -24M215.9 1657.5h24M227.9 1645.5v24" stroke="#0000A0" stroke-width="2" fill="none"/><path d="M349.2 1620.9l24 24M349.2 1644.9l24 -24M349.2 1632.9h24M361.2 1620.9v24" stroke="#0000A0" stroke-width="2" fill="none"/><path d="M482.5 1623.3l24 24M482.5 1647.3l24 -24M482.5 1635.3h24M494.5 1623.3v24" stroke="#0000A0" stroke-width="2" fill="none"/><path d="M615.9 1621l24 24M615.9 1645l24 -24M615.9 1633h24M627.9 1621v24" stroke="#0000A0" stroke-width="2" fill="none"/><path d="M749.2 1628.3l24 24M749.2 1652.3l24 -24M749.2 1640.3h24M761.2 1628.3v24" stroke="#0000A0" stroke-width="2" fill="none"/><path d="M882.5 1616.8l24 24M882.5 1640.8l24 -24M882.5 1628.8h24M894.5 1616.8v24" stroke="#0000A0" stroke-width="2" fill="none"/><path d="M1015.9 1608l24 24M1015.9 1632l24 -24M1015.9 1620h24M1027.9 1608v24" stroke="#0000A0" stroke-width="2" fill="none"/><path d="M1149.2 1589.1l24 24M1149.2 1613.1l24 -24M1149.2 1601.1h24M1161.2 1589.1v24" stroke="#0000A0" stroke-width="2" fill="none"/><path d="M1282.5 1545l24 24M1282.5 1569l24 -24M1282.5 1557h24M1294.5 1545v24" stroke="#0000A0" stroke-width="2" fill="none"/><path d="M1415.8 1528.5l24 24M1415.8 1552.5l24 -24M1415.8 1540.5h24M1427.8 1528.5v24" stroke="#0000A0" stroke-width="2" fill="none"/><path d="M1549.2 1513l24 24M1549.2 1537l24 -24M1549.2 1525h24M1561.2 1513v24" stroke="#0000A0" stroke-width="2" fill="none"/><path d="M1682.5 1491.8l24 24M1682.5 1515.8l24 -24M1682.5 1503.8h24M1694.5 1491.8v24" stroke="#0000A0" stroke-width="2" fill="none"/><path d="M1815.8 1438l24 24M1815.8 1462l24 -24M1815.8 1450h24M1827.8 1438v24" stroke="#0000A0" stroke-width="2" fill="none"/><path d="M1949.1 1358.3l24 24M1949.1 1382.3l24 -24M1949.1 1370.3h24M1961.1 1358.3v24" stroke="#0000A0" stroke-width="2" fill="none"/><path d="M2082.4 1278l24 24M2082.4 1302l24 -24M2082.4 1290h24M2094.4 1278v24" stroke="#0000A0" stroke-width="2" fill="none"/><path d="M2215.8 1211.6l24 24M2215.8 1235.6l24 -24M2215.8 1223.6h24M2227.8 1211.6v24" stroke="#0000A0" stroke-width="2" fill="none"/><path d="M2349.1 1143l24 24M2349.1 1167l24 -24M2349.1 1155h24M2361.1 1143v24" stroke="#0000A0" stroke-width="2" fill="none"/>
<path class="ln" stroke="#0070E0" d="M227.9 1631C272.3 1623.9 316.8 1615.6 361.2 1609.7C405.7 1603.8 450.1 1598.3 494.5 1595.5C539 1592.7 583.4 1591.7 627.9 1592.8C672.3 1593.9 716.8 1598.8 761.2 1602.1C805.6 1605.4 850.1 1611.8 894.5 1612.9C939 1614.1 983.4 1612.2 1027.9 1609C1072.3 1605.8 1116.7 1603.6 1161.2 1593.9C1205.6 1584.2 1250.1 1560.2 1294.5 1551C1338.9 1541.8 1383.4 1543.2 1427.8 1539C1472.3 1534.8 1516.7 1528.7 1561.2 1525.5C1605.6 1522.3 1650 1529.2 1694.5 1520C1738.9 1510.8 1783.4 1486.9 1827.8 1470C1872.2 1453.1 1916.7 1437.5 1961.1 1418.8C2005.6 1400.1 2050 1376.1 2094.4 1358C2138.9 1339.9 2183.3 1325.6 2227.8 1310.4C2272.2 1295.2 2316.7 1281.4 2361.1 1266.9"/>
<path d="M216.9 1631h22" stroke="#FF8000" stroke-width="2" fill="none"/><path d="M350.2 1609.7h22" stroke="#FF8000" stroke-width="2" fill="none"/><path d="M483.5 1595.5h22" stroke="#FF8000" stroke-width="2" fill="none"/><path d="M616.9 1592.8h22" stroke="#FF8000" stroke-width="2" fill="none"/><path d="M750.2 1602.1h22" stroke="#FF8000" stroke-width="2" fill="none"/><path d="M883.5 1612.9h22" stroke="#FF8000" stroke-width="2" fill="none"/><path d="M1016.9 1609h22" stroke="#FF8000" stroke-width="2" fill="none"/><path d="M1150.2 1593.9h22" stroke="#FF8000" stroke-width="2" fill="none"/><path d="M1283.5 1551h22" stroke="#FF8000" stroke-width="2" fill="none"/><path d="M1416.8 1539h22" stroke="#FF8000" stroke-width="2" fill="none"/><path d="M1550.2 1525.5h22" stroke="#FF8000" stroke-width="2" fill="none"/><path d="M1683.5 1520h22" stroke="#FF8000" stroke-width="2" fill="none"/><path d="M1816.8 1470h22" stroke="#FF8000" stroke-width="2" fill="none"/><path d="M1950.1 1418.8h22" stroke="#FF8000" stroke-width="2" fill="none"/><path d="M2083.4 1358h22" stroke="#FF8000" stroke-width="2" fill="none"/><path d="M2216.8 1310.4h22" stroke="#FF8000" stroke-width="2" fill="none"/><path d="M2350.1 1266.9h22" stroke="#FF8000" stroke-width="2" fill="none"/>
<path class="ln" stroke="#00AA66" d="M227.9 1620C272.3 1610.8 316.8 1603.2 361.2 1592.4C405.7 1581.6 450.1 1560.8 494.5 1555C539 1549.2 583.4 1557 627.9 1557.5C672.3 1558 716.8 1554.6 761.2 1558.2C805.6 1561.8 850.1 1573.8 894.5 1579.2C939 1584.7 983.4 1590.5 1027.9 1590.9C1072.3 1591.3 1116.7 1588.4 1161.2 1581.4C1205.6 1574.4 1250.1 1556.4 1294.5 1549C1338.9 1541.6 1383.4 1541.5 1427.8 1537C1472.3 1532.5 1516.7 1526.5 1561.2 1522C1605.6 1517.5 1650 1517.8 1694.5 1510C1738.9 1502.2 1783.4 1485.8 1827.8 1475C1872.2 1464.2 1916.7 1456.8 1961.1 1445C2005.6 1433.2 2050 1416.5 2094.4 1404C2138.9 1391.5 2183.3 1380.1 2227.8 1370.3C2272.2 1360.5 2316.7 1353.4 2361.1 1345"/>
<path d="M227.9 1609v22" stroke="#8000FF" stroke-width="2" fill="none"/><path d="M361.2 1581.4v22" stroke="#8000FF" stroke-width="2" fill="none"/><path d="M494.5 1544v22" stroke="#8000FF" stroke-width="2" fill="none"/><path d="M627.9 1546.5v22" stroke="#8000FF" stroke-width="2" fill="none"/><path d="M761.2 1547.2v22" stroke="#8000FF" stroke-width="2" fill="none"/><path d="M894.5 1568.2v22" stroke="#8000FF" stroke-width="2" fill="none"/><path d="M1027.9 1579.9v22" stroke="#8000FF" stroke-width="2" fill="none"/><path d="M1161.2 1570.4v22" stroke="#8000FF" stroke-width="2" fill="none"/><path d="M1294.5 1538v22" stroke="#8000FF" stroke-width="2" fill="none"/><path d="M1427.8 1526v22" stroke="#8000FF" stroke-width="2" fill="none"/><path d="M1561.2 1511v22" stroke="#8000FF" stroke-width="2" fill="none"/><path d="M1694.5 1499v22" stroke="#8000FF" stroke-width="2" fill="none"/><path d="M1827.8 1464v22" stroke="#8000FF" stroke-width="2" fill="none"/><path d="M1961.1 1434v22" stroke="#8000FF" stroke-width="2" fill="none"/><path d="M2094.4 1393v22" stroke="#8000FF" stroke-width="2" fill="none"/><path d="M2227.8 1359.3v22" stroke="#8000FF" stroke-width="2" fill="none"/><path d="M2361.1 1334v22" stroke="#8000FF" stroke-width="2" fill="none"/>
<path class="ln" stroke="#C077E0" d="M227.9 1622.5C272.3 1600.8 316.8 1573.2 361.2 1557.4C405.7 1541.6 450.1 1537.5 494.5 1527.9C539 1518.3 583.4 1500.8 627.9 1499.9C672.3 1499 716.8 1516.5 761.2 1522.5C805.6 1528.5 850.1 1529.7 894.5 1535.8C939 1541.9 983.4 1554.4 1027.9 1559.3C1072.3 1564.2 1116.7 1568.3 1161.2 1565.1C1205.6 1561.9 1250.1 1547.3 1294.5 1540.1C1338.9 1532.9 1383.4 1527 1427.8 1522C1472.3 1517 1516.7 1514.5 1561.2 1509.8C1605.6 1505.1 1650 1499 1694.5 1494C1738.9 1489 1783.4 1485.5 1827.8 1479.5C1872.2 1473.5 1916.7 1467.1 1961.1 1458C2005.6 1448.9 2050 1434.7 2094.4 1425C2138.9 1415.3 2183.3 1405.2 2227.8 1399.7C2272.2 1394.2 2316.7 1394.6 2361.1 1392"/>
<rect x="217.4" y="1612" width="21" height="21" fill="#FF0080"/><rect x="350.7" y="1546.9" width="21" height="21" fill="#FF0080"/><rect x="484" y="1517.4" width="21" height="21" fill="#FF0080"/><rect x="617.4" y="1489.4" width="21" height="21" fill="#FF0080"/><rect x="750.7" y="1512" width="21" height="21" fill="#FF0080"/><rect x="884" y="1525.3" width="21" height="21" fill="#FF0080"/><rect x="1017.4" y="1548.8" width="21" height="21" fill="#FF0080"/><rect x="1150.7" y="1554.6" width="21" height="21" fill="#FF0080"/><rect x="1284" y="1529.6" width="21" height="21" fill="#FF0080"/><rect x="1417.3" y="1511.5" width="21" height="21" fill="#FF0080"/><rect x="1550.7" y="1499.3" width="21" height="21" fill="#FF0080"/><rect x="1684" y="1483.5" width="21" height="21" fill="#FF0080"/><rect x="1817.3" y="1469" width="21" height="21" fill="#FF0080"/><rect x="1950.6" y="1447.5" width="21" height="21" fill="#FF0080"/><rect x="2083.9" y="1414.5" width="21" height="21" fill="#FF0080"/><rect x="2217.3" y="1389.2" width="21" height="21" fill="#FF0080"/><rect x="2350.6" y="1381.5" width="21" height="21" fill="#FF0080"/>
<path class="ln" stroke="#DD9900" d="M227.9 1607.5C272.3 1579.9 316.8 1543.1 361.2 1524.8C405.7 1506.5 450.1 1507.2 494.5 1497.8C539 1488.4 583.4 1472.9 627.9 1468.5C672.3 1464.1 716.8 1465.6 761.2 1471.3C805.6 1477 850.1 1492.9 894.5 1502.7C939 1512.5 983.4 1523.2 1027.9 1530.3C1072.3 1537.4 1116.7 1544.7 1161.2 1545.5C1205.6 1546.3 1250.1 1539.8 1294.5 1535.1C1338.9 1530.3 1383.4 1524.8 1427.8 1517C1472.3 1509.2 1516.7 1496.2 1561.2 1488C1605.6 1479.8 1650 1470.9 1694.5 1467.6C1738.9 1464.3 1783.4 1470.8 1827.8 1468C1872.2 1465.2 1916.7 1458.2 1961.1 1450.7C2005.6 1443.2 2050 1428.6 2094.4 1423C2138.9 1417.4 2183.3 1418 2227.8 1417C2272.2 1416 2316.7 1416.8 2361.1 1416.7"/>
<circle cx="227.9" cy="1607.5" r="11.5" fill="#FDFDFD"/><circle cx="361.2" cy="1524.8" r="11.5" fill="#FDFDFD"/><circle cx="494.5" cy="1497.8" r="11.5" fill="#FDFDFD"/><circle cx="627.9" cy="1468.5" r="11.5" fill="#FDFDFD"/><circle cx="761.2" cy="1471.3" r="11.5" fill="#FDFDFD"/><circle cx="894.5" cy="1502.7" r="11.5" fill="#FDFDFD"/><circle cx="1027.9" cy="1530.3" r="11.5" fill="#FDFDFD"/><circle cx="1161.2" cy="1545.5" r="11.5" fill="#FDFDFD"/><circle cx="1294.5" cy="1535.1" r="11.5" fill="#FDFDFD"/><circle cx="1427.8" cy="1517" r="11.5" fill="#FDFDFD"/><circle cx="1561.2" cy="1488" r="11.5" fill="#FDFDFD"/><circle cx="1694.5" cy="1467.6" r="11.5" fill="#FDFDFD"/><circle cx="1827.8" cy="1468" r="11.5" fill="#FDFDFD"/><circle cx="1961.1" cy="1450.7" r="11.5" fill="#FDFDFD"/><circle cx="2094.4" cy="1423" r="11.5" fill="#FDFDFD"/><circle cx="2227.8" cy="1417" r="11.5" fill="#FDFDFD"/><circle cx="2361.1" cy="1416.7" r="11.5" fill="#FDFDFD"/>
<path class="ln" stroke="#00CCCC" d="M227.9 1601C272.3 1578 316.8 1557.5 361.2 1532C405.7 1506.5 450.1 1465.2 494.5 1448C539 1430.8 583.4 1429.8 627.9 1429C672.3 1428.2 716.8 1435.5 761.2 1443C805.6 1450.5 850.1 1463.1 894.5 1474C939 1484.9 983.4 1498.8 1027.9 1508.5C1072.3 1518.2 1116.7 1528.7 1161.2 1532C1205.6 1535.3 1250.1 1532.3 1294.5 1528.1C1338.9 1523.9 1383.4 1514.5 1427.8 1507C1472.3 1499.5 1516.7 1490.5 1561.2 1483.2C1605.6 1475.9 1650 1468.4 1694.5 1463C1738.9 1457.6 1783.4 1455.2 1827.8 1451C1872.2 1446.8 1916.7 1443.7 1961.1 1437.7C2005.6 1431.7 2050 1420.4 2094.4 1415C2138.9 1409.6 2183.3 1405.3 2227.8 1405.5C2272.2 1405.7 2316.7 1412.5 2361.1 1416"/>
<polygon points="227.9,1585 242.2,1609 213.6,1609" fill="#C0C0C0"/><polygon points="361.2,1516 375.5,1540 346.9,1540" fill="#C0C0C0"/><polygon points="494.5,1432 508.8,1456 480.2,1456" fill="#C0C0C0"/><polygon points="627.9,1413 642.2,1437 613.6,1437" fill="#C0C0C0"/><polygon points="761.2,1427 775.5,1451 746.9,1451" fill="#C0C0C0"/><polygon points="894.5,1458 908.8,1482 880.2,1482" fill="#C0C0C0"/><polygon points="1027.9,1492.5 1042.2,1516.5 1013.6,1516.5" fill="#C0C0C0"/><polygon points="1161.2,1516 1175.5,1540 1146.9,1540" fill="#C0C0C0"/><polygon points="1294.5,1512.1 1308.8,1536.1 1280.2,1536.1" fill="#C0C0C0"/><polygon points="1427.8,1491 1442.1,1515 1413.5,1515" fill="#C0C0C0"/><polygon points="1561.2,1467.2 1575.5,1491.2 1546.9,1491.2" fill="#C0C0C0"/><polygon points="1694.5,1447 1708.8,1471 1680.2,1471" fill="#C0C0C0"/><polygon points="1827.8,1435 1842.1,1459 1813.5,1459" fill="#C0C0C0"/><polygon points="1961.1,1421.7 1975.4,1445.7 1946.8,1445.7" fill="#C0C0C0"/><polygon points="2094.4,1399 2108.8,1423 2080.1,1423" fill="#C0C0C0"/><polygon points="2227.8,1389.5 2242.1,1413.5 2213.5,1413.5" fill="#C0C0C0"/><polygon points="2361.1,1400 2375.4,1424 2346.8,1424" fill="#C0C0C0"/>
<path class="ln" stroke="#8E5050" d="M227.9 1571.5C272.3 1553.2 316.8 1536.6 361.2 1516.5C405.7 1496.4 450.1 1474.7 494.5 1450.8C539 1426.9 583.4 1381.1 627.9 1373C672.3 1364.9 716.8 1390.3 761.2 1402.2C805.6 1414.1 850.1 1430.1 894.5 1444.4C939 1458.8 983.4 1475.5 1027.9 1488.3C1072.3 1501.1 1116.7 1515.1 1161.2 1521.4C1205.6 1527.7 1250.1 1527.9 1294.5 1526.2C1338.9 1524.5 1383.4 1516.3 1427.8 1511C1472.3 1505.7 1516.7 1499.2 1561.2 1494.5C1605.6 1489.8 1650 1488.6 1694.5 1482.7C1738.9 1476.8 1783.4 1467.1 1827.8 1459C1872.2 1450.9 1916.7 1443.3 1961.1 1434.3C2005.6 1425.3 2050 1412.2 2094.4 1405C2138.9 1397.8 2183.3 1392.2 2227.8 1391C2272.2 1389.8 2316.7 1395.3 2361.1 1397.5"/>
<polygon points="227.9,1587.5 242.2,1563.5 213.6,1563.5" fill="#808080"/><polygon points="361.2,1532.5 375.5,1508.5 346.9,1508.5" fill="#808080"/><polygon points="494.5,1466.8 508.8,1442.8 480.2,1442.8" fill="#808080"/><polygon points="627.9,1389 642.2,1365 613.6,1365" fill="#808080"/><polygon points="761.2,1418.2 775.5,1394.2 746.9,1394.2" fill="#808080"/><polygon points="894.5,1460.4 908.8,1436.4 880.2,1436.4" fill="#808080"/><polygon points="1027.9,1504.3 1042.2,1480.3 1013.6,1480.3" fill="#808080"/><polygon points="1161.2,1537.4 1175.5,1513.4 1146.9,1513.4" fill="#808080"/><polygon points="1294.5,1542.2 1308.8,1518.2 1280.2,1518.2" fill="#808080"/><polygon points="1427.8,1527 1442.1,1503 1413.5,1503" fill="#808080"/><polygon points="1561.2,1510.5 1575.5,1486.5 1546.9,1486.5" fill="#808080"/><polygon points="1694.5,1498.7 1708.8,1474.7 1680.2,1474.7" fill="#808080"/><polygon points="1827.8,1475 1842.1,1451 1813.5,1451" fill="#808080"/><polygon points="1961.1,1450.3 1975.4,1426.3 1946.8,1426.3" fill="#808080"/><polygon points="2094.4,1421 2108.8,1397 2080.1,1397" fill="#808080"/><polygon points="2227.8,1407 2242.1,1383 2213.5,1383" fill="#808080"/><polygon points="2361.1,1413.5 2375.4,1389.5 2346.8,1389.5" fill="#808080"/>
<path class="ln" stroke="#909000" d="M227.9 1559.8C272.3 1538.5 316.8 1514.7 361.2 1495.8C405.7 1476.9 450.1 1465.8 494.5 1446.4C539 1427 583.4 1394.6 627.9 1379.5C672.3 1364.4 716.8 1350 761.2 1356C805.6 1362 850.1 1396.1 894.5 1415.3C939 1434.5 983.4 1454.3 1027.9 1471.3C1072.3 1488.3 1116.7 1507.7 1161.2 1517.4C1205.6 1527.2 1250.1 1528.7 1294.5 1529.8C1338.9 1530.9 1383.4 1526 1427.8 1524C1472.3 1522 1516.7 1520 1561.2 1518C1605.6 1516 1650 1516.5 1694.5 1511.7C1738.9 1506.9 1783.4 1497.3 1827.8 1489.2C1872.2 1481.1 1916.7 1472.9 1961.1 1463C2005.6 1453.1 2050 1441 2094.4 1430C2138.9 1419 2183.3 1405 2227.8 1397.2C2272.2 1389.4 2316.7 1387.9 2361.1 1383.3"/>
<polygon points="227.9,1544.8 242.9,1559.8 227.9,1574.8 212.9,1559.8" fill="#FFFF80"/><polygon points="361.2,1480.8 376.2,1495.8 361.2,1510.8 346.2,1495.8" fill="#FFFF80"/><polygon points="494.5,1431.4 509.5,1446.4 494.5,1461.4 479.5,1446.4" fill="#FFFF80"/><polygon points="627.9,1364.5 642.9,1379.5 627.9,1394.5 612.9,1379.5" fill="#FFFF80"/><polygon points="761.2,1341 776.2,1356 761.2,1371 746.2,1356" fill="#FFFF80"/><polygon points="894.5,1400.3 909.5,1415.3 894.5,1430.3 879.5,1415.3" fill="#FFFF80"/><polygon points="1027.9,1456.3 1042.9,1471.3 1027.9,1486.3 1012.9,1471.3" fill="#FFFF80"/><polygon points="1161.2,1502.4 1176.2,1517.4 1161.2,1532.4 1146.2,1517.4" fill="#FFFF80"/><polygon points="1294.5,1514.8 1309.5,1529.8 1294.5,1544.8 1279.5,1529.8" fill="#FFFF80"/><polygon points="1427.8,1509 1442.8,1524 1427.8,1539 1412.8,1524" fill="#FFFF80"/><polygon points="1561.2,1503 1576.2,1518 1561.2,1533 1546.2,1518" fill="#FFFF80"/><polygon points="1694.5,1496.7 1709.5,1511.7 1694.5,1526.7 1679.5,1511.7" fill="#FFFF80"/><polygon points="1827.8,1474.2 1842.8,1489.2 1827.8,1504.2 1812.8,1489.2" fill="#FFFF80"/><polygon points="1961.1,1448 1976.1,1463 1961.1,1478 1946.1,1463" fill="#FFFF80"/><polygon points="2094.4,1415 2109.4,1430 2094.4,1445 2079.4,1430" fill="#FFFF80"/><polygon points="2227.8,1382.2 2242.8,1397.2 2227.8,1412.2 2212.8,1397.2" fill="#FFFF80"/><polygon points="2361.1,1368.3 2376.1,1383.3 2361.1,1398.3 2346.1,1383.3" fill="#FFFF80"/>
<path class="ln" stroke="#FF6600" d="M227.9 1551.5C272.3 1530.9 316.8 1508.9 361.2 1489.8C405.7 1470.7 450.1 1457.5 494.5 1436.7C539 1415.9 583.4 1381.1 627.9 1364.7C672.3 1348.3 716.8 1335.8 761.2 1338.6C805.6 1341.4 850.1 1362.5 894.5 1381.6C939 1400.7 983.4 1432.7 1027.9 1453C1072.3 1473.3 1116.7 1490.3 1161.2 1503.2C1205.6 1516.1 1250.1 1525.9 1294.5 1530.4C1338.9 1534.9 1383.4 1530.5 1427.8 1530.4C1472.3 1530.3 1516.7 1530.2 1561.2 1530C1605.6 1529.8 1650 1531.5 1694.5 1529.5C1738.9 1527.5 1783.4 1523.1 1827.8 1518C1872.2 1512.9 1916.7 1506.7 1961.1 1499.1C2005.6 1491.5 2050 1481.9 2094.4 1472.3C2138.9 1462.7 2183.3 1451.2 2227.8 1441.4C2272.2 1431.6 2316.7 1422.9 2361.1 1413.6"/>
<polygon points="211.9,1551.5 235.9,1538 235.9,1565" fill="#00FFFF"/><polygon points="345.2,1489.8 369.2,1476.3 369.2,1503.3" fill="#00FFFF"/><polygon points="478.5,1436.7 502.5,1423.2 502.5,1450.2" fill="#00FFFF"/><polygon points="611.9,1364.7 635.9,1351.2 635.9,1378.2" fill="#00FFFF"/><polygon points="745.2,1338.6 769.2,1325.1 769.2,1352.1" fill="#00FFFF"/><polygon points="878.5,1381.6 902.5,1368.1 902.5,1395.1" fill="#00FFFF"/><polygon points="1011.9,1453 1035.9,1439.5 1035.9,1466.5" fill="#00FFFF"/><polygon points="1145.2,1503.2 1169.2,1489.7 1169.2,1516.7" fill="#00FFFF"/><polygon points="1278.5,1530.4 1302.5,1516.9 1302.5,1543.9" fill="#00FFFF"/><polygon points="1411.8,1530.4 1435.8,1516.9 1435.8,1543.9" fill="#00FFFF"/><polygon points="1545.2,1530 1569.2,1516.5 1569.2,1543.5" fill="#00FFFF"/><polygon points="1678.5,1529.5 1702.5,1516 1702.5,1543" fill="#00FFFF"/><polygon points="1811.8,1518 1835.8,1504.5 1835.8,1531.5" fill="#00FFFF"/><polygon points="1945.1,1499.1 1969.1,1485.6 1969.1,1512.6" fill="#00FFFF"/><polygon points="2078.4,1472.3 2102.4,1458.8 2102.4,1485.8" fill="#00FFFF"/><polygon points="2211.8,1441.4 2235.8,1427.9 2235.8,1454.9" fill="#00FFFF"/><polygon points="2345.1,1413.6 2369.1,1400.1 2369.1,1427.1" fill="#00FFFF"/>
</g>
<text class="tk" x="228.7" y="1896.6" text-anchor="middle">300</text>
<text class="tk" x="495.3" y="1896.6" text-anchor="middle">400</text>
<text class="tk" x="762" y="1896.6" text-anchor="middle">500</text>
<text class="tk" x="1028.7" y="1896.6" text-anchor="middle">600</text>
<text class="tk" x="1295.3" y="1896.6" text-anchor="middle">700</text>
<text class="tk" x="1562" y="1896.6" text-anchor="middle">800</text>
<text class="tk" x="1828.6" y="1896.6" text-anchor="middle">900</text>
<text class="tk" x="2095.2" y="1896.6" text-anchor="middle">1000</text>
<text class="tk" x="2361.9" y="1896.6" text-anchor="middle">1100</text>
<text class="tk" x="170" y="88" text-anchor="end">1</text>
<text class="tk" x="171.3" y="1805.3" text-anchor="end">0</text>
<text class="ax" x="1295.5" y="2038.3" text-anchor="middle">wavelength (nm)</text>
<text class="ax" transform="translate(95.8 924.5) rotate(-90)" text-anchor="middle">Absorbance (%)</text>
<rect x="331" y="88" width="727" height="1205" fill="#fdfdfd" stroke="#000" stroke-width="3" shape-rendering="crispEdges"/>
<text class="lg" x="341.3" y="170">Crystal size (nm)</text>
<path d="M343.1 243.4H416.3M446.4 243.4H521.9" stroke="#505050" stroke-width="7" stroke-linecap="round" fill="none"/><g shape-rendering="crispEdges"><rect x="421.1" y="231.9" width="21" height="21" fill="#000000"/></g>
<text class="lg" x="542.8" y="268.9">43</text>
<path d="M343.1 342.9H416.3M446.4 342.9H521.9" stroke="#FF4040" stroke-width="7" stroke-linecap="round" fill="none"/><g shape-rendering="crispEdges"><circle cx="431.6" cy="342.9" r="11.5" fill="#FF0000"/></g>
<text class="lg" x="542.8" y="368.4">50</text>
<path d="M343.1 442.4H416.3M446.4 442.4H521.9" stroke="#0070E0" stroke-width="7" stroke-linecap="round" fill="none"/><g shape-rendering="crispEdges"><polygon points="431.6,426.4 445.9,450.4 417.3,450.4" fill="#00FF00"/></g>
<text class="lg" x="542.8" y="467.9">58</text>
<path d="M343.1 541.9H416.3M446.4 541.9H521.9" stroke="#00AA66" stroke-width="7" stroke-linecap="round" fill="none"/><g shape-rendering="crispEdges"><polygon points="431.6,557.9 445.9,533.9 417.3,533.9" fill="#0000FF"/></g>
<text class="lg" x="542.8" y="567.4">68</text>
<path d="M343.1 641.4H416.3M446.4 641.4H521.9" stroke="#C077E0" stroke-width="7" stroke-linecap="round" fill="none"/><g shape-rendering="crispEdges"><polygon points="431.6,626.4 446.6,641.4 431.6,656.4 416.6,641.4" fill="#00FFFF"/></g>
<text class="lg" x="542.8" y="666.9">78</text>
<path d="M343.1 740.9H416.3M446.4 740.9H521.9" stroke="#DD9900" stroke-width="7" stroke-linecap="round" fill="none"/><g shape-rendering="crispEdges"><polygon points="415.6,740.9 439.6,727.4 439.6,754.4" fill="#FF00FF"/></g>
<text class="lg" x="542.8" y="766.4">91</text>
<path d="M343.1 840.4H416.3M446.4 840.4H521.9" stroke="#00CCCC" stroke-width="7" stroke-linecap="round" fill="none"/><g shape-rendering="crispEdges"><polygon points="447.6,840.4 423.6,826.9 423.6,853.9" fill="#FFFF00"/></g>
<text class="lg" x="542.8" y="865.9">105</text>
<path d="M343.1 939.9H416.3M446.4 939.9H521.9" stroke="#8E5050" stroke-width="7" stroke-linecap="round" fill="none"/><g shape-rendering="crispEdges"><polygon points="431.6,927.1 442.7,933.5 442.7,946.3 431.6,952.7 420.5,946.3 420.5,933.5" fill="#808000"/></g>
<text class="lg" x="542.8" y="965.4">122</text>
<path d="M343.1 1039.4H416.3M446.4 1039.4H521.9" stroke="#909000" stroke-width="7" stroke-linecap="round" fill="none"/><g shape-rendering="crispEdges"><polygon points="431.6,1025.4 435.1,1034.5 444.9,1035.1 437.3,1041.3 439.8,1050.7 431.6,1045.4 423.4,1050.7 425.9,1041.3 418.3,1035.1 428.1,1034.5" fill="#000080"/></g>
<text class="lg" x="542.8" y="1064.9">141</text>
<path d="M343.1 1138.9H416.3M446.4 1138.9H521.9" stroke="#FF6600" stroke-width="7" stroke-linecap="round" fill="none"/><g shape-rendering="crispEdges"><polygon points="431.6,1124.8 445,1134.5 439.9,1150.3 423.3,1150.3 418.2,1134.5" fill="#930089"/></g>
<text class="lg" x="542.8" y="1164.4">164</text>
<path d="M343.1 1238.4H416.3M446.4 1238.4H521.9" stroke="#4499CC" stroke-width="7" stroke-linecap="round" fill="none"/><g shape-rendering="crispEdges"><circle cx="431.6" cy="1238.4" r="11.3" fill="url(#sph)"/></g>
<text class="lg" x="542.8" y="1263.9">190</text>
<path d="M727.2 243.4H802M830.2 243.4H905.8" stroke="#33B000" stroke-width="7" stroke-linecap="round" fill="none"/><g shape-rendering="crispEdges"><path d="M805.2 243.4h22M816.2 232.4v22" stroke="#008000" stroke-width="2" fill="none"/></g>
<text class="lg" x="926.7" y="268.9">220</text>
<path d="M727.2 342.9H802M830.2 342.9H905.8" stroke="#505050" stroke-width="7" stroke-linecap="round" fill="none"/><g shape-rendering="crispEdges"><path d="M804.2 330.9l24 24M804.2 354.9l24 -24" stroke="#008080" stroke-width="2" fill="none"/></g>
<text class="lg" x="926.7" y="368.4">255</text>
<path d="M727.2 442.4H802M830.2 442.4H905.8" stroke="#FF4040" stroke-width="7" stroke-linecap="round" fill="none"/><g shape-rendering="crispEdges"><path d="M804.2 430.4l24 24M804.2 454.4l24 -24M804.2 442.4h24M816.2 430.4v24" stroke="#0000A0" stroke-width="2" fill="none"/></g>
<text class="lg" x="926.7" y="467.9">295</text>
<path d="M727.2 541.9H802M830.2 541.9H905.8" stroke="#0070E0" stroke-width="7" stroke-linecap="round" fill="none"/><g shape-rendering="crispEdges"><path d="M805.2 541.9h22" stroke="#FF8000" stroke-width="2" fill="none"/></g>
<text class="lg" x="926.7" y="567.4">341</text>
<path d="M727.2 641.4H802M830.2 641.4H905.8" stroke="#00AA66" stroke-width="7" stroke-linecap="round" fill="none"/><g shape-rendering="crispEdges"><path d="M816.2 630.4v22" stroke="#8000FF" stroke-width="2" fill="none"/></g>
<text class="lg" x="926.7" y="666.9">396</text>
<path d="M727.2 740.9H802M830.2 740.9H905.8" stroke="#C077E0" stroke-width="7" stroke-linecap="round" fill="none"/><g shape-rendering="crispEdges"><rect x="805.7" y="729.4" width="21" height="21" fill="#FF0080"/></g>
<text class="lg" x="926.7" y="766.4">458</text>
<path d="M727.2 840.4H802M830.2 840.4H905.8" stroke="#DD9900" stroke-width="7" stroke-linecap="round" fill="none"/><g shape-rendering="crispEdges"><circle cx="816.2" cy="840.4" r="11.5" fill="#FDFDFD"/></g>
<text class="lg" x="926.7" y="865.9">531</text>
<path d="M727.2 939.9H802M830.2 939.9H905.8" stroke="#00CCCC" stroke-width="7" stroke-linecap="round" fill="none"/><g shape-rendering="crispEdges"><polygon points="816.2,923.9 830.5,947.9 801.9,947.9" fill="#C0C0C0"/></g>
<text class="lg" x="926.7" y="965.4">615</text>
<path d="M727.2 1039.4H802M830.2 1039.4H905.8" stroke="#8E5050" stroke-width="7" stroke-linecap="round" fill="none"/><g shape-rendering="crispEdges"><polygon points="816.2,1055.4 830.5,1031.4 801.9,1031.4" fill="#808080"/></g>
<text class="lg" x="926.7" y="1064.9">712</text>
<path d="M727.2 1138.9H802M830.2 1138.9H905.8" stroke="#909000" stroke-width="7" stroke-linecap="round" fill="none"/><g shape-rendering="crispEdges"><polygon points="816.2,1123.9 831.2,1138.9 816.2,1153.9 801.2,1138.9" fill="#FFFF80"/></g>
<text class="lg" x="926.7" y="1164.4">824</text>
<path d="M727.2 1238.4H802M830.2 1238.4H905.8" stroke="#FF6600" stroke-width="7" stroke-linecap="round" fill="none"/><g shape-rendering="crispEdges"><polygon points="800.2,1238.4 824.2,1224.9 824.2,1251.9" fill="#00FFFF"/></g>
<text class="lg" x="926.7" y="1263.9">955</text>
</svg></body></html>
